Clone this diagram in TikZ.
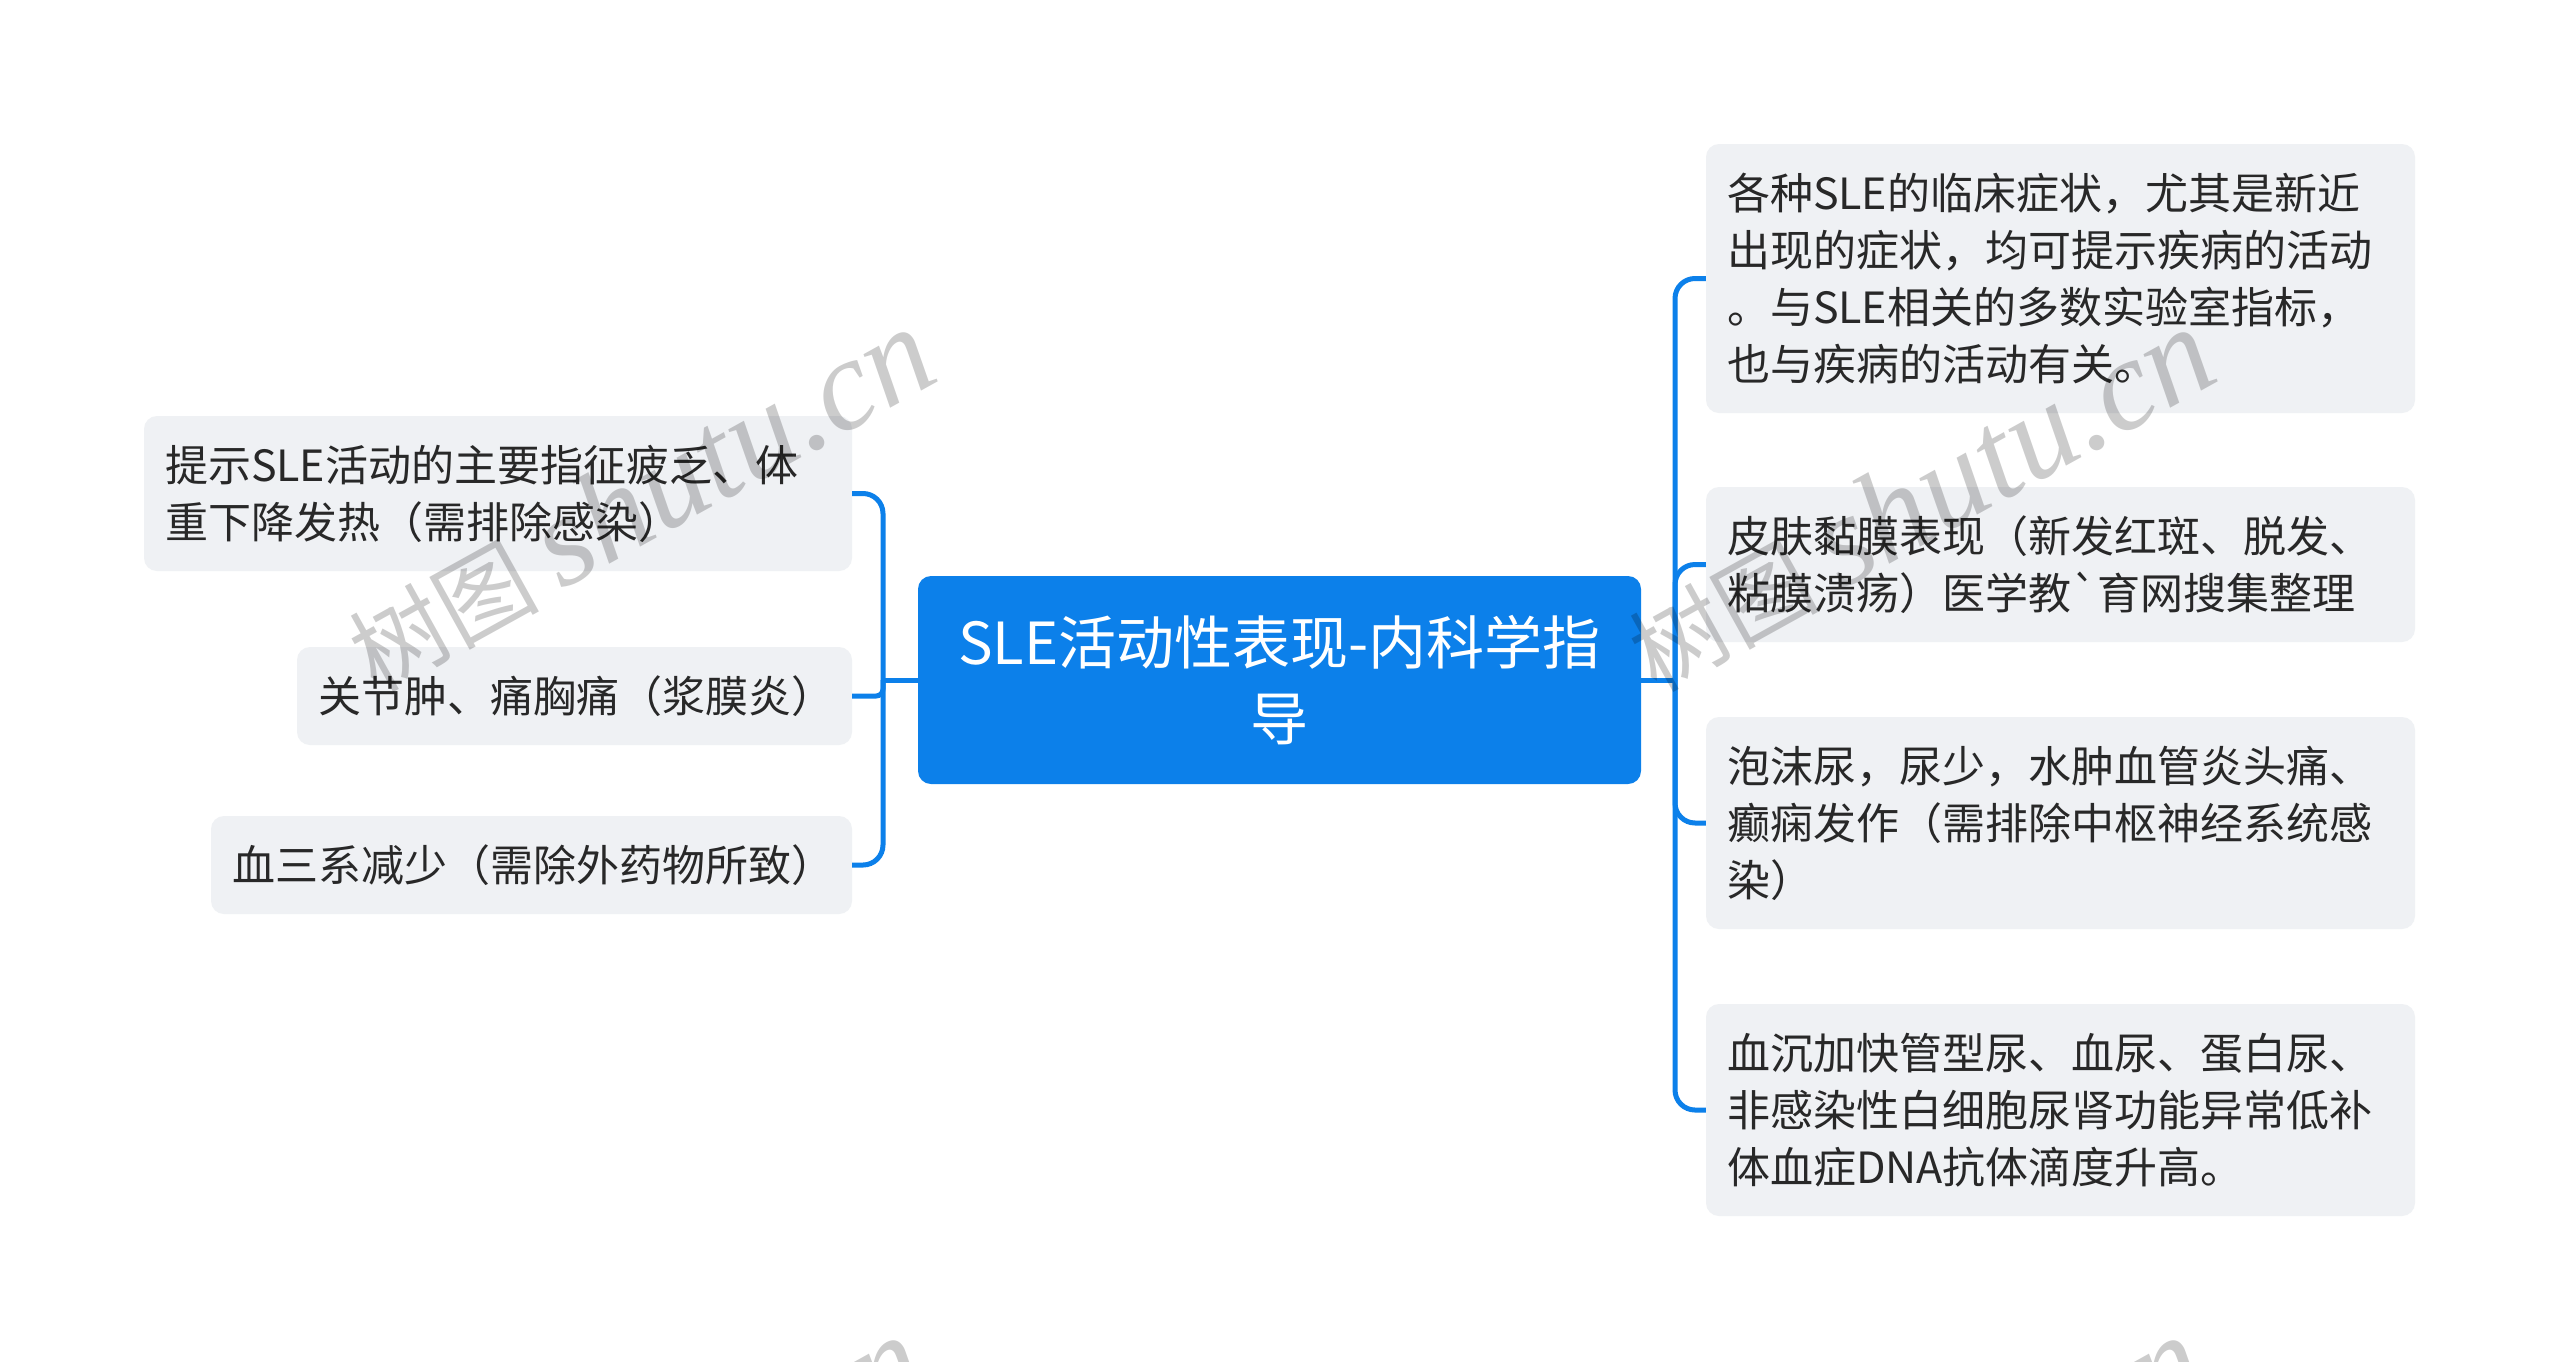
\documentclass[tikz,border=0pt]{standalone}
\usepackage{fontspec}
\newfontfamily\cjk{Noto Sans CJK SC}[Ligatures=TeXOff]
\newfontfamily\wmserif{Liberation Serif}
\definecolor{mainblue}{RGB}{12,128,234}
\definecolor{leafgray}{RGB}{239,241,244}
\definecolor{txt}{RGB}{40,40,40}
\begin{document}
\begin{tikzpicture}[x=1pt,y=-1pt,
  leaf/.style={fill=leafgray, rounded corners=13pt, text=txt,
    font=\cjk\fontsize{43}{57}\selectfont, align=left,
    inner xsep=21pt, inner ysep=0pt, anchor=center},
  rootbox/.style={fill=mainblue, rounded corners=13pt, text=white,
    font=\cjk\fontsize{58}{76}\selectfont, align=center,
    minimum width=723pt, minimum height=208pt, inner sep=0pt},
  conn/.style={draw=mainblue, line width=5pt, rounded corners=20pt},
  wm/.style={text=black, text opacity=0.2, rotate=29, inner sep=0pt}]
\clip (0,0) rectangle (2560,1361);
\fill[white] (0,0) rectangle (2560,1361);

% root
\node[rootbox] (c) at (1279.5,680) {SLE活动性表现-内科学指\\导};

% left leaves
\node[leaf, text width=666pt, minimum height=155pt] (l1) at (498,493.5)
  {提示SLE活动的主要指征疲乏、体\\重下降发热（需排除感染）};
\node[leaf, text width=513pt, minimum height=98pt] (l2) at (574.5,696)
  {关节肿、痛胸痛（浆膜炎）};
\node[leaf, text width=599pt, minimum height=98pt] (l3) at (531.5,865)
  {血三系减少（需除外药物所致）};

% right leaves
\node[leaf, text width=667pt, minimum height=269pt] (r1) at (2060.5,278.5)
  {各种SLE的临床症状，尤其是新近\\出现的症状，均可提示疾病的活动\\。与SLE相关的多数实验室指标，\\也与疾病的活动有关。};
\node[leaf, text width=667pt, minimum height=155pt] (r2) at (2060.5,564.5)
  {皮肤黏膜表现（新发红斑、脱发、\\粘膜溃疡）医学教`育网搜集整理};
\node[leaf, text width=667pt, minimum height=212pt] (r3) at (2060.5,823)
  {泡沫尿，尿少，水肿血管炎头痛、\\癫痫发作（需排除中枢神经系统感\\染）};
\node[leaf, text width=667pt, minimum height=212pt] (r4) at (2060.5,1110)
  {血沉加快管型尿、血尿、蛋白尿、\\非感染性白细胞尿肾功能异常低补\\体血症DNA抗体滴度升高。};

% junctions
\coordinate (lj) at (883,680);
\coordinate (rj) at (1675,680);

% connectors
\draw[conn] (c.west) -- (lj);
\draw[conn] (lj) |- (l1.east);
\draw[conn, rounded corners=7pt] (lj) |- (l2.east);
\draw[conn] (lj) |- (l3.east);
\draw[conn] (c.east) -- (rj);
\draw[conn] (rj) |- (r1.west);
\draw[conn] (rj) |- (r2.west);
\draw[conn] (rj) |- (r3.west);
\draw[conn] (rj) |- (r4.west);

% watermarks
\foreach \wx/\wy [count=\i] in {640/500, 1920/500, 630/1508, 1910/1508}{
  \node[wm] (wm\i) at (\wx,\wy) {{\cjk\fontsize{95}{95}\selectfont 树图}\hspace{22pt}{\wmserif\itshape\fontsize{130}{130}\selectfont shutu.cn}};
}
\end{tikzpicture}
\end{document}
